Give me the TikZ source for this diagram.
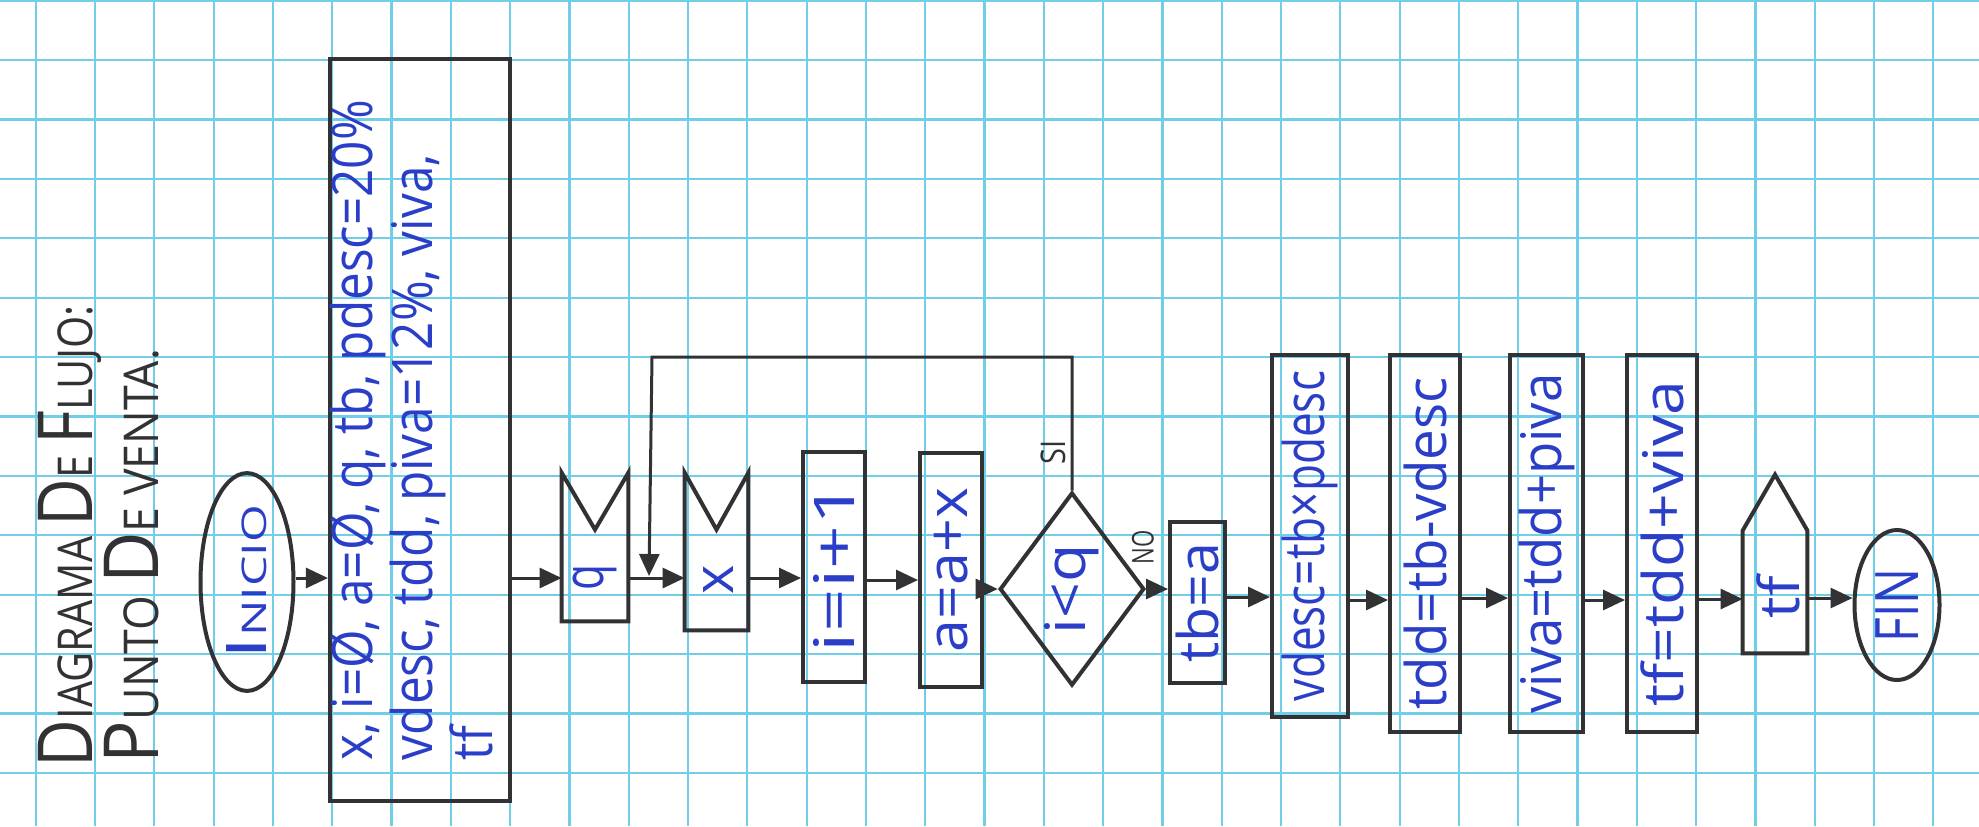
\documentclass[tikz,border=0pt]{standalone}
\usepackage{fontspec}
\setmainfont{Open Sans}
\usetikzlibrary{shapes.geometric,arrows.meta,calc}
\definecolor{gridc}{RGB}{112,206,232}
\definecolor{ink}{RGB}{50,50,52}
\definecolor{pen}{RGB}{42,62,200}
\newcommand\hw[2]{\rotatebox{90}{\resizebox{#1}{\height}{#2}}}
\newcommand\capsmall[4]{{\fontsize{#1}{#1}\selectfont #3}{\fontsize{#2}{#2}\selectfont #4}}
\begin{document}
\begin{tikzpicture}[x=0.5pt,y=-0.5pt,
  shp/.style={draw=ink,line width=2pt,inner sep=0pt},
  hand/.style={text=pen,font=\fontsize{28}{29}\selectfont,inner sep=0pt},
  procbox/.style={shp,rectangle,hand},
  termin/.style={shp,ellipse,hand},
  holder/.style={rectangle,inner sep=0pt,hand},
  arr/.style={ink,line width=1.5pt,-{Triangle[length=11pt,width=10pt]}},
  lbl/.style={text=ink,inner sep=0pt,font=\fontsize{17}{17}\selectfont},
  ttl/.style={text=ink,inner sep=0pt,font=\fontsize{24}{24}\selectfont},
  gridl/.style={gridc,line width=1.1pt}]
\fill[white] (0,0) rectangle (1979,826);
\useasboundingbox (0,0) rectangle (1979,826);
% graph paper
\foreach \k in {0,...,32} \draw[gridl] ({35.7+59.3*\k},0) -- ({35.7+59.3*\k},826);
\foreach \k in {0,...,13} \draw[gridl] (0,{0.6+59.4*\k}) -- (1979,{0.6+59.4*\k});

% title
\node[ttl] (t1) at (70,536) {\hw{231pt}{\capsmall{38}{24}{D}{IAGRAMA} \capsmall{38}{24}{D}{E} \capsmall{38}{24}{F}{LUJO:}}};
\node[ttl] (t2) at (132,556) {\hw{207pt}{\capsmall{38}{24}{P}{UNTO} \capsmall{38}{24}{D}{E} \capsmall{24}{24}{V}{ENTA.}}};

% nodes
\node[termin,minimum width=46.5pt,minimum height=104pt] (ini) at (247,582) {\hw{77pt}{\capsmall{28}{17}{I}{NICIO}}};
\node[procbox,minimum width=88pt,minimum height=371pt] (init) at (420,430)
  {\hw{330pt}{\begin{tabular}{@{}l@{}}x, i=Ø, a=Ø, q, tb, pdesc=20\%\\ vdesc, tdd, piva=12\%, viva,\\ tf\end{tabular}}};
\node[holder,minimum width=33pt,minimum height=74pt] (q) at (595,547) {};
\node[hand] (qt) at (595,577) {\hw{13pt}{q}};
\node[holder,minimum width=31.5pt,minimum height=78.5pt] (xin) at (716.5,551.5) {};
\node[hand] (xt) at (719,580) {\rotatebox{90}{x}};
\node[procbox,minimum width=31pt,minimum height=115pt] (inc) at (834,567) {\hw{85pt}{i=i+1}};
\node[procbox,minimum width=31pt,minimum height=117pt] (acc) at (951,570) {\hw{82pt}{a=a+x}};
\node[shp,diamond,hand,minimum width=67.5pt,minimum height=96.5pt] (dia) at (1072,589) {\hw{45pt}{i<q}};
\node[procbox,minimum width=27.5pt,minimum height=80.5pt] (tb) at (1197.5,602.5) {\hw{60pt}{tb=a}};
\node[procbox,minimum width=38pt,minimum height=181pt] (vd) at (1310,536) {\hw{165pt}{vdesc=tb×pdesc}};
\node[procbox,minimum width=35pt,minimum height=188.5pt] (td) at (1425,543.5) {\hw{166pt}{tdd=tb-vdesc}};
\node[procbox,minimum width=36.5pt,minimum height=188.5pt] (vi) at (1546.5,543.5) {\hw{170pt}{viva=tdd+piva}};
\node[procbox,minimum width=35pt,minimum height=188.5pt] (tfb) at (1662,543.5) {\hw{163pt}{tf=tdd+viva}};
\node[holder,minimum width=32pt,minimum height=89pt] (out) at (1775,564) {};
\node[hand] (outt) at (1778,597) {\hw{21pt}{tf}};
\node[termin,minimum width=42.5pt,minimum height=75pt] (fin) at (1897,605) {\hw{37pt}{\fontsize{30}{30}\selectfont FIN}};

% special shapes
\draw[shp] (q.north west) -- ([yshift=-28.5pt]q.north) -- (q.north east) -- (q.south east) -- (q.south west) -- cycle;
\draw[shp] (xin.north west) -- ([yshift=-28.5pt]xin.north) -- (xin.north east) -- (xin.south east) -- (xin.south west) -- cycle;
\draw[shp] (out.south west) -- ([yshift=-28pt]out.north west) -- (out.north) -- ([yshift=-28pt]out.north east) -- (out.south east) -- cycle;

% rows
\coordinate (ya) at (0,578);
\coordinate (yb) at (0,580);
\coordinate (yc) at (0,597);
\coordinate (yd) at (0,600);
\coordinate (ye) at (0,598);
\coordinate (yf) at (0,600);
\coordinate (yg) at (0,599);
\coordinate (yh) at (0,598);

% connectors
\draw[arr] (ini.east |- ya) -- (init.west |- ya);
\draw[arr] (init.east |- ya) -- (q.west |- ya);
\draw[arr] (q.east |- ya) -- (xin.west |- ya);
\draw[arr] (xin.east |- ya) -- (inc.west |- ya);
\draw[arr] (inc.east |- yb) -- (acc.west |- yb);
\draw[arr] (acc.east |- dia.west) -- (dia.west);
\draw[arr] (dia.east) -- (tb.west |- dia.east);
\draw[arr] (tb.east |- yc) -- (vd.west |- yc);
\draw[arr] (vd.east |- yd) -- (td.west |- yd);
\draw[arr] (td.east |- ye) -- (vi.west |- ye);
\draw[arr] (vi.east |- yf) -- (tfb.west |- yf);
\draw[arr] (tfb.east |- yg) -- (out.west |- yg);
\draw[arr] (out.east |- yh) -- (fin.west |- yh);

% loop back
\coordinate (lpc) at (652,357);
\coordinate (lpe) at (649,576);
\draw[arr] (dia.north) |- (lpc) -- (lpe);

\node[lbl] (si) at (1053,452) {\hw{12pt}{SI}};
\node[lbl,font=\fontsize{15}{15}\selectfont] (no) at (1143,547) {\hw{17pt}{NO}};
\end{tikzpicture}
\end{document}
